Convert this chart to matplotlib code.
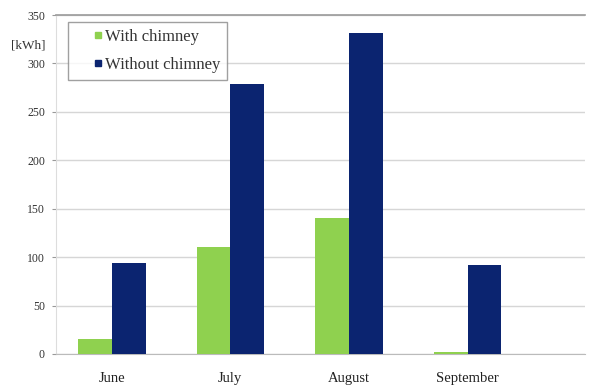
import numpy as np
import matplotlib.pyplot as plt
from matplotlib.lines import Line2D

months = ["June", "July", "August", "September"]
with_chimney = [15, 110, 140, 2]
without_chimney = [94, 279, 331, 92]
y_ticks = [0, 50, 100, 150, 200, 250, 300, 350]

green = "#8fd14f"
navy = "#0b2470"

plt.rcParams['font.family'] = ['Liberation Serif', 'DejaVu Serif']

fig = plt.figure(figsize=(5.96, 3.88), dpi=100)
ax = fig.add_axes([56 / 596, 1 - 354 / 388, 529 / 596, 339 / 388])

x = np.arange(len(months))
w = 0.285
ax.bar(x - w / 2, with_chimney, w, color=green, zorder=3)
ax.bar(x + w / 2, without_chimney, w, color=navy, zorder=3)

# centres at ~112 px and ~468 px
ax.set_xlim(-0.47, 3.99)
ax.set_ylim(0, 350)
ax.set_yticks(y_ticks)
ax.set_yticklabels([str(t) for t in y_ticks], fontsize=8.5, color="#333333")
ax.set_xticks(x)
ax.set_xticklabels(months, fontsize=10.5, color="#222222")
ax.tick_params(axis='x', length=0, pad=13)
ax.tick_params(axis='y', length=3, color="#999999", pad=5)

ax.grid(axis='y', color="#d6d6d6", linewidth=1.0, zorder=0)
ax.spines['right'].set_visible(False)
ax.spines['top'].set_color("#9a9a9a")
ax.spines['top'].set_linewidth(1.2)
ax.spines['left'].set_color("#dddddd")
ax.spines['bottom'].set_color("#bbbbbb")

fig.text(28 / 596, 1 - 45 / 388, "[kWh]", fontsize=9.5, color="#333333",
         ha='center', va='center')

handles = [Line2D([], [], marker='s', linestyle='none', color=green, markersize=4),
           Line2D([], [], marker='s', linestyle='none', color=navy, markersize=4)]
leg = fig.legend(handles, ["With chimney", "Without chimney"],
                 loc='upper left', bbox_to_anchor=(68 / 596, 1 - 22 / 388),
                 fontsize=12, frameon=True, fancybox=False, handletextpad=-1.0,
                 borderpad=0.4, labelspacing=0.75, handlelength=2.8,
                 borderaxespad=0, labelcolor="#333333")
leg.get_frame().set_edgecolor("#888888")
leg.get_frame().set_linewidth(1.0)

fig.savefig("out.png", dpi=100)
